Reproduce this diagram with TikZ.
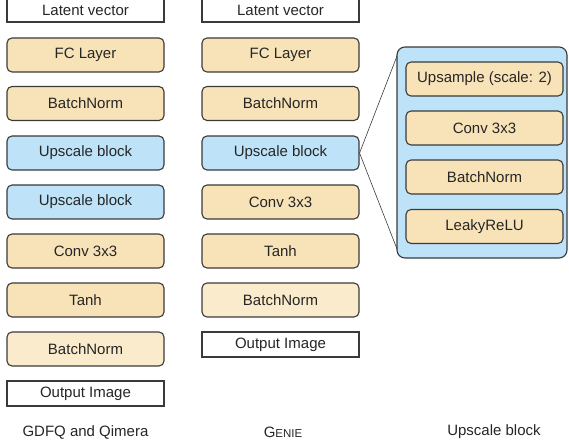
\documentclass[tikz,border=0pt]{standalone}
\usepackage{fontspec}
\setmainfont{Liberation Sans}
\usepackage{xcolor}
\usetikzlibrary{positioning}

\definecolor{layerfill}{HTML}{F8E3B8}
\definecolor{lightfill}{HTML}{FAEBCC}
\definecolor{upfill}{HTML}{BEE3F8}
\definecolor{edgegray}{HTML}{3A3A3A}

\begin{document}
\begin{tikzpicture}[x=1pt, y=-1pt,
  every node/.style={font=\fontsize{15}{17}\selectfont, text=black!85},
  layerbox/.style={draw=edgegray, line width=1.1pt, fill=layerfill, rounded corners=5pt,
    minimum width=157pt, minimum height=34pt, inner sep=0pt},
  lightbox/.style={layerbox, fill=lightfill},
  upbox/.style={layerbox, fill=upfill},
  iobox/.style={draw=edgegray, line width=1.1pt, fill=white,
    minimum width=157pt, inner sep=0pt}]

\useasboundingbox (0,0) rectangle (569,446);

% GDFQ and Qimera
\node[iobox, minimum height=24pt] (lat1) at (85.5,10) {Latent vector};
\node[layerbox] (fc1) at (85.5,55) {FC Layer};
\node[layerbox] (bn1) at (85.5,103.5) {BatchNorm};
\node[upbox] (up1) at (85.5,153) {Upscale block};
\node[upbox] (up1b) at (85.5,202) {Upscale block};
\node[layerbox] (conv1) at (85.5,251) {Conv 3x3};
\node[layerbox] (tanh1) at (85.5,300) {Tanh};
\node[lightbox] (bn1b) at (85.5,349) {BatchNorm};
\node[iobox, minimum height=25pt] (out1) at (85.5,393.5) {Output Image};

% Genie
\node[iobox, minimum height=24pt] (lat2) at (280.5,10) {Latent vector};
\node[layerbox] (fc2) at (280.5,55) {FC Layer};
\node[layerbox] (bn2) at (280.5,103.5) {BatchNorm};
\node[upbox] (up2) at (280.5,153) {Upscale block};
\node[layerbox] (conv2) at (280.5,202) {Conv 3x3};
\node[layerbox] (tanh2) at (280.5,251) {Tanh};
\node[lightbox] (bn2b) at (280.5,300) {BatchNorm};
\node[iobox, minimum height=25pt] (out2) at (280.5,344.5) {Output Image};

% upscale block, opened up
\node[upbox, rounded corners=8pt, minimum width=170pt, minimum height=211pt] (panel) at (482,152.5) {};
\node[layerbox] (ups) at (484.5,79) {Upsample (scale: 2)};
\node[layerbox] (conv3) at (484.5,128) {Conv 3x3};
\node[layerbox] (bn3) at (484.5,177) {BatchNorm};
\node[layerbox] (relu) at (484.5,226.5) {LeakyReLU};

\coordinate (ptop) at (397,56);
\coordinate (pbot) at (397,249);
\draw[edgegray, line width=0.6pt] (ptop) -- (up2.east) -- (pbot);

% captions
\node (cap1) at (85.5,432) {GDFQ and Qimera};
\node (cap2) at (283,432) {G{\fontsize{11.5}{13}\selectfont ENIE}};
\node (cap3) at (494,432) {Upscale block};

\end{tikzpicture}
\end{document}
